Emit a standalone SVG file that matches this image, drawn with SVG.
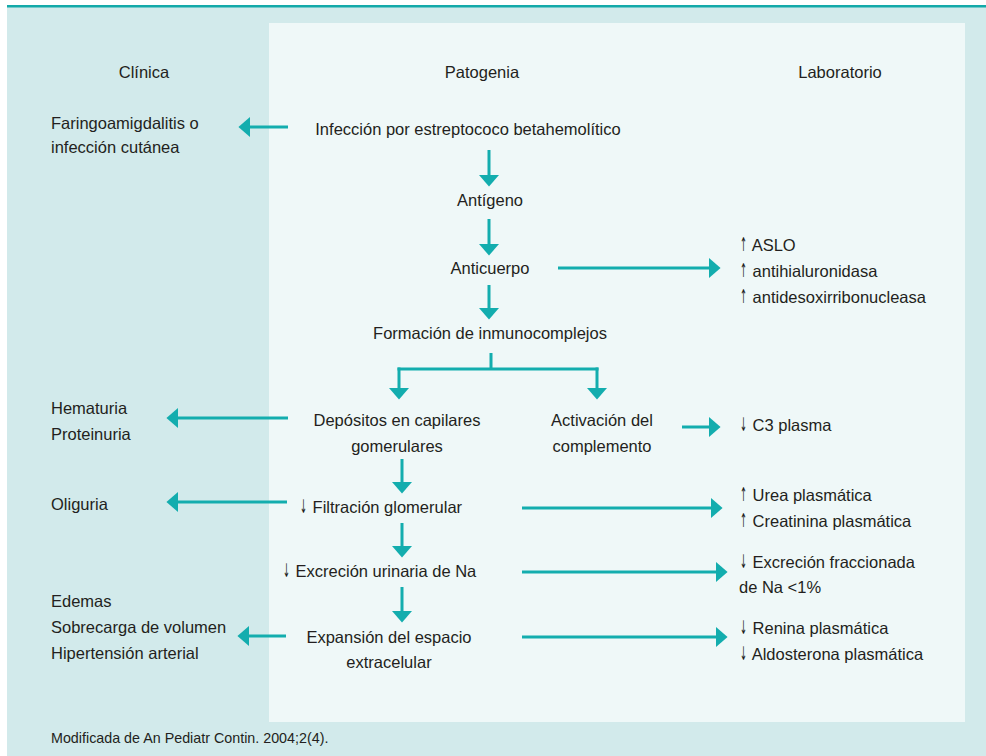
<svg xmlns="http://www.w3.org/2000/svg" width="986" height="756" viewBox="0 0 986 756">
<defs>
<style>
text{font-family:"Liberation Sans",Arial,sans-serif;font-size:16.5px;fill:#231f20}
.c{text-anchor:middle}
.foot{font-size:14.3px}
.ar{font-size:19px;font-family:"DejaVu Sans","Liberation Sans",sans-serif}
.ln{fill:none;stroke:#13adae;stroke-width:3}
</style>
<marker id="ah" markerUnits="userSpaceOnUse" markerWidth="12" markerHeight="20" viewBox="0 0 11 19" refX="0" refY="9.5" orient="auto">
<path d="M0,0 L11,9.5 L0,19 Z" fill="#13adae"/>
</marker>
</defs>
<rect x="7" y="7" width="979" height="749" fill="#d2eaeb"/>
<rect x="7" y="5" width="979" height="2.5" fill="#14a9a9"/>
<rect x="269" y="23" width="696" height="699" fill="#eff8f8"/>

<g id="headers">
<text class="c" x="144" y="78">Clínica</text>
<text class="c" x="482" y="78">Patogenia</text>
<text class="c" x="840" y="78">Laboratorio</text>
</g>

<g id="n-infeccion"><text class="c" x="468" y="135">Infección por estreptococo betahemolítico</text></g>
<g id="n-faringo"><text x="51" y="129">Faringoamigdalitis o</text><text x="51" y="153">infección cutánea</text></g>
<g id="n-antigeno"><text class="c" x="490" y="206">Antígeno</text></g>
<g id="n-anticuerpo"><text class="c" x="490" y="274">Anticuerpo</text></g>
<g id="n-aslo">
<text x="740" y="251"><tspan class="ar" textLength="7" lengthAdjust="spacingAndGlyphs">↑</tspan><tspan dx="1"> ASLO</tspan></text>
<text x="740" y="277"><tspan class="ar" textLength="7" lengthAdjust="spacingAndGlyphs">↑</tspan><tspan dx="1"> antihialuronidasa</tspan></text>
<text x="740" y="303"><tspan class="ar" textLength="7" lengthAdjust="spacingAndGlyphs">↑</tspan><tspan dx="1"> antidesoxirribonucleasa</tspan></text>
</g>
<g id="n-formacion"><text class="c" x="490" y="339">Formación de inmunocomplejos</text></g>
<g id="n-depositos"><text class="c" x="397" y="426">Depósitos en capilares</text><text class="c" x="397" y="452">gomerulares</text></g>
<g id="n-activacion"><text class="c" x="602" y="426">Activación del</text><text class="c" x="602" y="452">complemento</text></g>
<g id="n-hematuria"><text x="51" y="414">Hematuria</text><text x="51" y="440">Proteinuria</text></g>
<g id="n-c3"><text x="740" y="431"><tspan class="ar" textLength="7" lengthAdjust="spacingAndGlyphs">↓</tspan><tspan dx="1"> C3 plasma</tspan></text></g>
<g id="n-filtracion"><text x="300" y="513"><tspan class="ar" textLength="7" lengthAdjust="spacingAndGlyphs">↓</tspan><tspan dx="1"> Filtración glomerular</tspan></text></g>
<g id="n-oliguria"><text x="51" y="510">Oliguria</text></g>
<g id="n-urea">
<text x="740" y="501"><tspan class="ar" textLength="7" lengthAdjust="spacingAndGlyphs">↑</tspan><tspan dx="1"> Urea plasmática</tspan></text>
<text x="740" y="527"><tspan class="ar" textLength="7" lengthAdjust="spacingAndGlyphs">↑</tspan><tspan dx="1"> Creatinina plasmática</tspan></text>
</g>
<g id="n-excrecion"><text x="283" y="577"><tspan class="ar" textLength="7" lengthAdjust="spacingAndGlyphs">↓</tspan><tspan dx="1"> Excreción urinaria de Na</tspan></text></g>
<g id="n-fraccionada">
<text x="740" y="568"><tspan class="ar" textLength="7" lengthAdjust="spacingAndGlyphs">↓</tspan><tspan dx="1"> Excreción fraccionada</tspan></text>
<text x="739" y="593">de Na &lt;1%</text>
</g>
<g id="n-expansion"><text class="c" x="389" y="643">Expansión del espacio</text><text class="c" x="389" y="668">extracelular</text></g>
<g id="n-edemas"><text x="51" y="607">Edemas</text><text x="51" y="633">Sobrecarga de volumen</text><text x="51" y="659">Hipertensión arterial</text></g>
<g id="n-renina">
<text x="740" y="634"><tspan class="ar" textLength="7" lengthAdjust="spacingAndGlyphs">↓</tspan><tspan dx="1"> Renina plasmática</tspan></text>
<text x="740" y="660"><tspan class="ar" textLength="7" lengthAdjust="spacingAndGlyphs">↓</tspan><tspan dx="1"> Aldosterona plasmática</tspan></text>
</g>
<g id="footer"><text class="foot" x="51" y="743">Modificada de An Pediatr Contin. 2004;2(4).</text></g>

<g id="connectors">
<path class="ln" marker-end="url(#ah)" d="M288,127 H250"/>
<path class="ln" marker-end="url(#ah)" d="M489,150 V175"/>
<path class="ln" marker-end="url(#ah)" d="M489,219 V244"/>
<path class="ln" marker-end="url(#ah)" d="M558,268 H709"/>
<path class="ln" marker-end="url(#ah)" d="M489,285 V308"/>
<path class="ln" d="M491,353 V369"/>
<path class="ln" marker-end="url(#ah)" d="M399,367.5 V388"/>
<path class="ln" marker-end="url(#ah)" d="M597,367.5 V388"/>
<path class="ln" d="M397.5,369 H598.5"/>
<path class="ln" marker-end="url(#ah)" d="M288,418 H178"/>
<path class="ln" marker-end="url(#ah)" d="M682,427 H709"/>
<path class="ln" marker-end="url(#ah)" d="M402,459 V482"/>
<path class="ln" marker-end="url(#ah)" d="M287,502 H178"/>
<path class="ln" marker-end="url(#ah)" d="M522,508 H711"/>
<path class="ln" marker-end="url(#ah)" d="M402,523 V546"/>
<path class="ln" marker-end="url(#ah)" d="M522,572 H716"/>
<path class="ln" marker-end="url(#ah)" d="M402,587 V611"/>
<path class="ln" marker-end="url(#ah)" d="M286,636 H249"/>
<path class="ln" marker-end="url(#ah)" d="M522,637 H716"/>
</g>
</svg>
